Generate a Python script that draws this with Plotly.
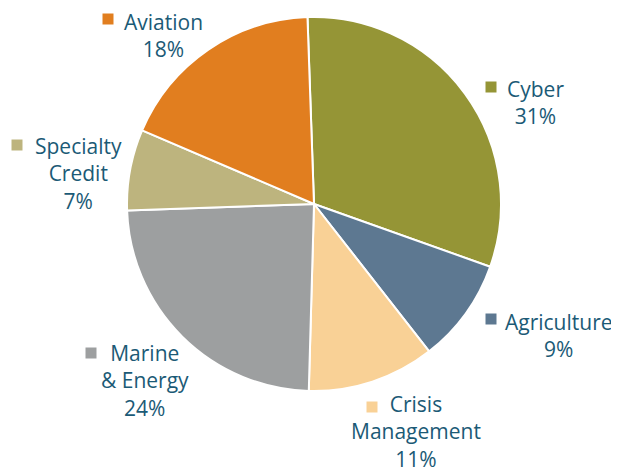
import plotly.graph_objects as go

# The page body adds an 8px margin, so the figure is drawn from (8, 8).
OFF = 8
W, H = 619 - OFF, 470 - OFF

# ---- data ----
categories = ["Cyber", "Agriculture", "Crisis Management", "Marine & Energy", "Specialty Credit", "Aviation"]
values = [31, 9, 11, 24, 7, 18]
label_lines = [["Cyber"], ["Agriculture"], ["Crisis", "Management"], ["Marine", "& Energy"], ["Specialty", "Credit"], ["Aviation"]]
colors = ["#959536", "#5d7891", "#f9d196", "#9d9fa0", "#bdb47e", "#e17e1f"]

# ---- label layout (screen pixel positions) ----
text_pos = [(535, 89), (559, 322), (416, 404), (145, 353), (78, 146), (163, 22)]   # centre x, first-line y
square_pos = [(491, 87), (491, 319), (372, 407), (91, 353), (17, 145), (108, 19)]
TEXT_COLOR = "#1b5a76"
FONT = "Open Sans"
FS = 21
LINE = FS * 1.3  # plotly's line spacing


def px(x):
    return (x - OFF) / W


def py(y):
    return 1 - (y - OFF) / H


cx, cy, r = 314, 204, 187

fig = go.Figure(go.Pie(
    labels=categories,
    values=values,
    sort=False,
    direction="clockwise",
    rotation=-2,
    marker=dict(colors=colors, line=dict(color="white", width=2)),
    textinfo="none",
    hoverinfo="label+percent",
    showlegend=False,
    domain=dict(x=[px(cx - r), px(cx + r)], y=[py(cy + r), py(cy - r)]),
))

total = sum(values)
annotations = []
shapes = []
for lines, v, (tx, ty), (sx, sy), c in zip(label_lines, values, text_pos, square_pos, colors):
    all_lines = lines + [f"{round(100 * v / total)}%"]
    n = len(all_lines)
    yc = ty + (n - 1) * LINE / 2
    annotations.append(dict(
        x=px(tx), y=py(yc), xref="paper", yref="paper",
        text="<br>".join(all_lines), showarrow=False, align="center",
        xanchor="center", yanchor="middle",
        font=dict(family=FONT, size=FS, color=TEXT_COLOR),
    ))
    s = 11
    shapes.append(dict(
        type="rect", xref="paper", yref="paper",
        x0=px(sx - s / 2), x1=px(sx + s / 2), y0=py(sy + s / 2), y1=py(sy - s / 2),
        fillcolor=c, line=dict(width=0),
    ))

fig.update_layout(
    width=W, height=H,
    margin=dict(l=0, r=0, t=0, b=0),
    paper_bgcolor="white", plot_bgcolor="white",
    annotations=annotations, shapes=shapes,
)

fig.write_html("out.html")
